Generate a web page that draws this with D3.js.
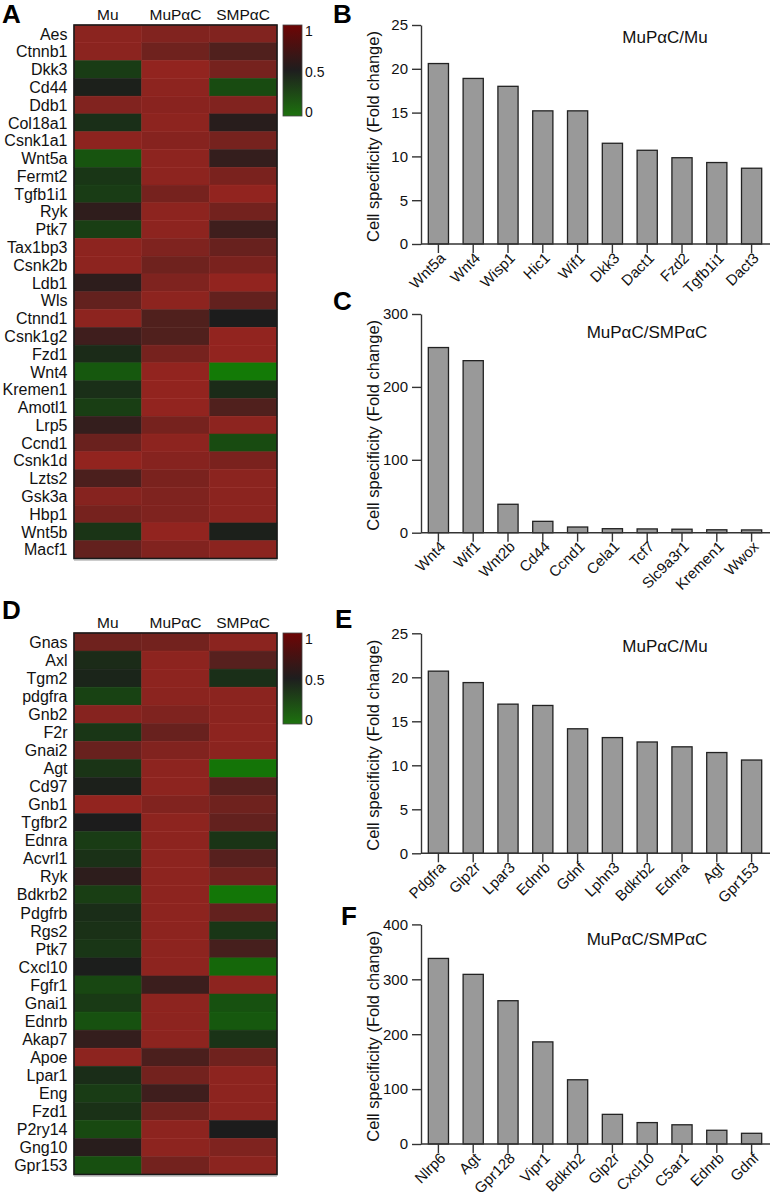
<!DOCTYPE html>
<html><head><meta charset="utf-8">
<script src="https://cdn.jsdelivr.net/npm/d3@7"></script>
<style>body{margin:0;background:#fff} svg{display:block;font-family:'Liberation Sans',Arial,sans-serif}</style>
</head><body><svg id="c" width="770" height="1199"></svg>
<script>
// ---------- DATA ----------
const heatCols = ["Mu", "MuPαC", "SMPαC"];

const heatA_genes = ["Aes","Ctnnb1","Dkk3","Cd44","Ddb1","Col18a1","Csnk1a1","Wnt5a","Fermt2","Tgfb1i1","Ryk","Ptk7","Tax1bp3","Csnk2b","Ldb1","Wls","Ctnnd1","Csnk1g2","Fzd1","Wnt4","Kremen1","Amotl1","Lrp5","Ccnd1","Csnk1d","Lzts2","Gsk3a","Hbp1","Wnt5b","Macf1"];
const heatA_Mu    = [0.97,0.97,0.33,0.48,0.93,0.40,0.98,0.20,0.36,0.33,0.58,0.32,0.98,0.98,0.57,0.80,0.98,0.65,0.42,0.18,0.40,0.32,0.60,0.83,1.00,0.70,0.95,0.88,0.37,0.80];
const heatA_MuPaC = [0.93,0.85,1.00,0.98,0.96,0.98,0.95,0.98,0.98,0.88,0.98,0.98,0.92,0.85,0.92,0.98,0.72,0.72,0.88,1.00,1.00,1.00,0.88,0.98,0.95,0.90,0.92,0.92,1.00,0.93];
const heatA_SMPaC = [0.93,0.72,0.88,0.25,0.93,0.55,0.88,0.60,0.90,1.00,0.87,0.65,0.82,0.90,1.00,0.80,0.50,1.00,1.00,0.00,0.42,0.72,0.98,0.25,0.90,0.97,0.97,0.97,0.48,0.97];

const heatD_genes = ["Gnas","Axl","Tgm2","pdgfra","Gnb2","F2r","Gnai2","Agt","Cd97","Gnb1","Tgfbr2","Ednra","Acvrl1","Ryk","Bdkrb2","Pdgfrb","Rgs2","Ptk7","Cxcl10","Fgfr1","Gnai1","Ednrb","Akap7","Apoe","Lpar1","Eng","Fzd1","P2ry14","Gng10","Gpr153"];
const heatD_Mu    = [0.85,0.42,0.45,0.30,0.95,0.36,0.82,0.37,0.48,1.00,0.50,0.33,0.39,0.57,0.32,0.41,0.39,0.36,0.49,0.27,0.34,0.22,0.60,0.98,0.41,0.33,0.39,0.26,0.55,0.23];
const heatD_MuPaC = [0.87,0.98,0.98,0.97,0.92,0.82,0.93,0.98,0.98,0.93,0.98,0.98,0.98,0.98,0.98,0.98,0.98,0.98,0.98,0.63,0.98,0.98,0.98,0.70,0.87,0.65,0.85,0.98,0.98,0.87];
const heatD_SMPaC = [0.97,0.75,0.40,0.97,0.97,0.98,0.97,0.03,0.75,0.85,0.80,0.37,0.75,0.85,0.02,0.80,0.36,0.68,0.10,0.98,0.22,0.18,0.38,0.85,0.98,0.98,0.98,0.50,0.92,0.97];

const legendTicks = [0, 0.5, 1];

const barB_genes  = ["Wnt5a","Wnt4","Wisp1","Hic1","Wif1","Dkk3","Dact1","Fzd2","Tgfb1i1","Dact3"];
const barB_values = [20.6,18.9,18.0,15.2,15.2,11.5,10.7,9.85,9.3,8.65];
const barB_ticks  = [0,5,10,15,20,25];

const barC_genes  = ["Wnt4","Wif1","Wnt2b","Cd44","Ccnd1","Cela1","Tcf7","Slc9a3r1","Kremen1","Wwox"];
const barC_values = [254,236,39,15.6,7.8,5.5,5.2,4.8,4.0,3.8];
const barC_ticks  = [0,100,200,300];

const barE_genes  = ["Pdgfra","Glp2r","Lpar3","Ednrb","Gdnf","Lphn3","Bdkrb2","Ednra","Agt","Gpr153"];
const barE_values = [20.7,19.4,16.95,16.8,14.15,13.15,12.65,12.1,11.45,10.6];
const barE_ticks  = [0,5,10,15,20,25];

const barF_genes  = ["Nlrp6","Agt","Gpr128","Vipr1","Bdkrb2","Glp2r","Cxcl10","C5ar1","Ednrb","Gdnf"];
const barF_values = [338,309,261,186,117,54,39,35,25,19.5];
const barF_ticks  = [0,100,200,300,400];

const yLabel = "Cell specificity (Fold change)";

// ---------- DRAW ----------
const svg = d3.select("#c");
const cellColor = d3.scaleLinear().domain([0, 0.5, 1]).range(["#137a06", "#1c1c1c", "#92241f"]);

const defs = svg.append("defs");
const grad = defs.append("linearGradient").attr("id","lg").attr("x1",0).attr("y1",0).attr("x2",0).attr("y2",1);
grad.append("stop").attr("offset","0%").attr("stop-color","#6e0505");
grad.append("stop").attr("offset","50%").attr("stop-color","#1e1e1e");
grad.append("stop").attr("offset","100%").attr("stop-color","#1d720e");

function panelLetter(t, x, y) {
  svg.append("text").attr("x", x).attr("y", y).attr("font-size", 26).attr("font-weight", "bold").attr("fill","#000").text(t);
}

function heatmap(genes, mu, mupac, smpac, top, bottom, headerY) {
  const g = svg.append("g");
  const x = d3.scaleBand().domain(heatCols).range([74, 277]);
  const y = d3.scaleBand().domain(genes).range([top, bottom]);
  const data = [];
  genes.forEach((gn, i) => [mu, mupac, smpac].forEach((arr, j) => data.push({gene: gn, col: heatCols[j], v: arr[i]})));
  g.selectAll("rect.cell").data(data).join("rect").attr("class","cell")
    .attr("x", d => x(d.col)).attr("y", d => y(d.gene))
    .attr("width", x.bandwidth()).attr("height", y.bandwidth())
    .attr("fill", d => cellColor(d.v))
    .attr("stroke", d => d3.color(cellColor(d.v)).brighter(0.15)).attr("stroke-width", 0.5);
  g.append("rect").attr("x", 74).attr("y", top).attr("width", 203).attr("height", bottom - top)
    .attr("fill", "none").attr("stroke", "#1a1a1a").attr("stroke-width", 1.6);
  g.append("line").attr("x1",74).attr("x2",277).attr("y1",bottom+1.5).attr("y2",bottom+1.5).attr("stroke","#999").attr("stroke-width",1);
  g.selectAll("text.row").data(genes).join("text").attr("class","row")
    .attr("x", 67.5).attr("y", d => y(d) + y.bandwidth() / 2).attr("dy", "0.36em")
    .attr("text-anchor", "end").attr("font-size", 16).attr("fill","#111").text(d => d);
  g.selectAll("text.hdr").data(heatCols).join("text").attr("class","hdr")
    .attr("x", d => x(d) + x.bandwidth() / 2).attr("y", headerY)
    .attr("text-anchor", "middle").attr("font-size", 15.5).attr("fill","#111").text(d => d);
  // colour bar
  g.append("rect").attr("x", 283).attr("y", top).attr("width", 19).attr("height", 91)
    .attr("fill", "url(#lg)").attr("stroke", "#444").attr("stroke-width", 0.8);
  const cy = d3.scaleLinear().domain([0, 1]).range([top + 87, top + 6]);
  g.selectAll("text.lt").data(legendTicks).join("text").attr("class","lt")
    .attr("x", 305).attr("y", d => cy(d)).attr("dy", "0.36em")
    .attr("font-size", 14).attr("fill","#111").text(d => d);
}

function barChart(genes, vals, ticks, yTop, y0, title, titleX, titleY) {
  const g = svg.append("g");
  const yMax = ticks[ticks.length - 1];
  const x = d3.scaleBand().domain(genes).range([421, 769]).paddingInner(0.42).paddingOuter(0.21);
  const y = d3.scaleLinear().domain([0, yMax]).range([y0, yTop]);
  g.selectAll("rect.bar").data(genes).join("rect").attr("class","bar")
    .attr("x", d => x(d)).attr("width", x.bandwidth())
    .attr("y", (d, i) => y(vals[i])).attr("height", (d, i) => y0 - y(vals[i]))
    .attr("fill", "#999999").attr("stroke", "#222").attr("stroke-width", 1.3);
  const ya = g.append("g").attr("transform", "translate(421,0)")
    .call(d3.axisLeft(y).tickValues(ticks).tickSize(9).tickSizeOuter(0).tickPadding(4).tickFormat(d3.format("d")));
  const xa = g.append("g").attr("transform", `translate(0,${y0})`)
    .call(d3.axisBottom(x).tickSize(9).tickSizeOuter(0));
  xa.select(".domain").attr("d", `M421,0H770`);
  [ya, xa].forEach(a => {
    a.selectAll("path,line").attr("stroke", "#333").attr("stroke-width", 1.4);
    a.selectAll("text").attr("font-size", 15).attr("fill", "#111").attr("font-family", "'Liberation Sans',Arial,sans-serif");
  });
  xa.selectAll("text").attr("x", 0).attr("y", 0).attr("dy", 0)
    .attr("text-anchor", "end").attr("transform", "translate(8,15) rotate(-45)");
  g.append("text").attr("transform", `translate(379,${(yTop + y0) / 2 + 2}) rotate(-90)`)
    .attr("text-anchor", "middle").attr("font-size", 16.5).attr("fill","#111").text(yLabel);
  g.append("text").attr("x", titleX).attr("y", titleY).attr("text-anchor", "middle")
    .attr("font-size", 17).attr("fill","#111").text(title);
}

heatmap(heatA_genes, heatA_Mu, heatA_MuPaC, heatA_SMPaC, 25, 558.5, 20);
heatmap(heatD_genes, heatD_Mu, heatD_MuPaC, heatD_SMPaC, 633, 1174.5, 628);

barChart(barB_genes, barB_values, barB_ticks, 25, 244, "MuPαC/Mu", 665, 43);
barChart(barC_genes, barC_values, barC_ticks, 314, 532.7, "MuPαC/SMPαC", 647, 338);
barChart(barE_genes, barE_values, barE_ticks, 633.3, 853.3, "MuPαC/Mu", 665, 652);
barChart(barF_genes, barF_values, barF_ticks, 924.4, 1144, "MuPαC/SMPαC", 647, 945);

panelLetter("A", 2, 23);
panelLetter("B", 333, 23);
panelLetter("C", 333, 310);
panelLetter("D", 2, 618.5);
panelLetter("E", 335, 628);
panelLetter("F", 341, 925);
</script></body></html>
